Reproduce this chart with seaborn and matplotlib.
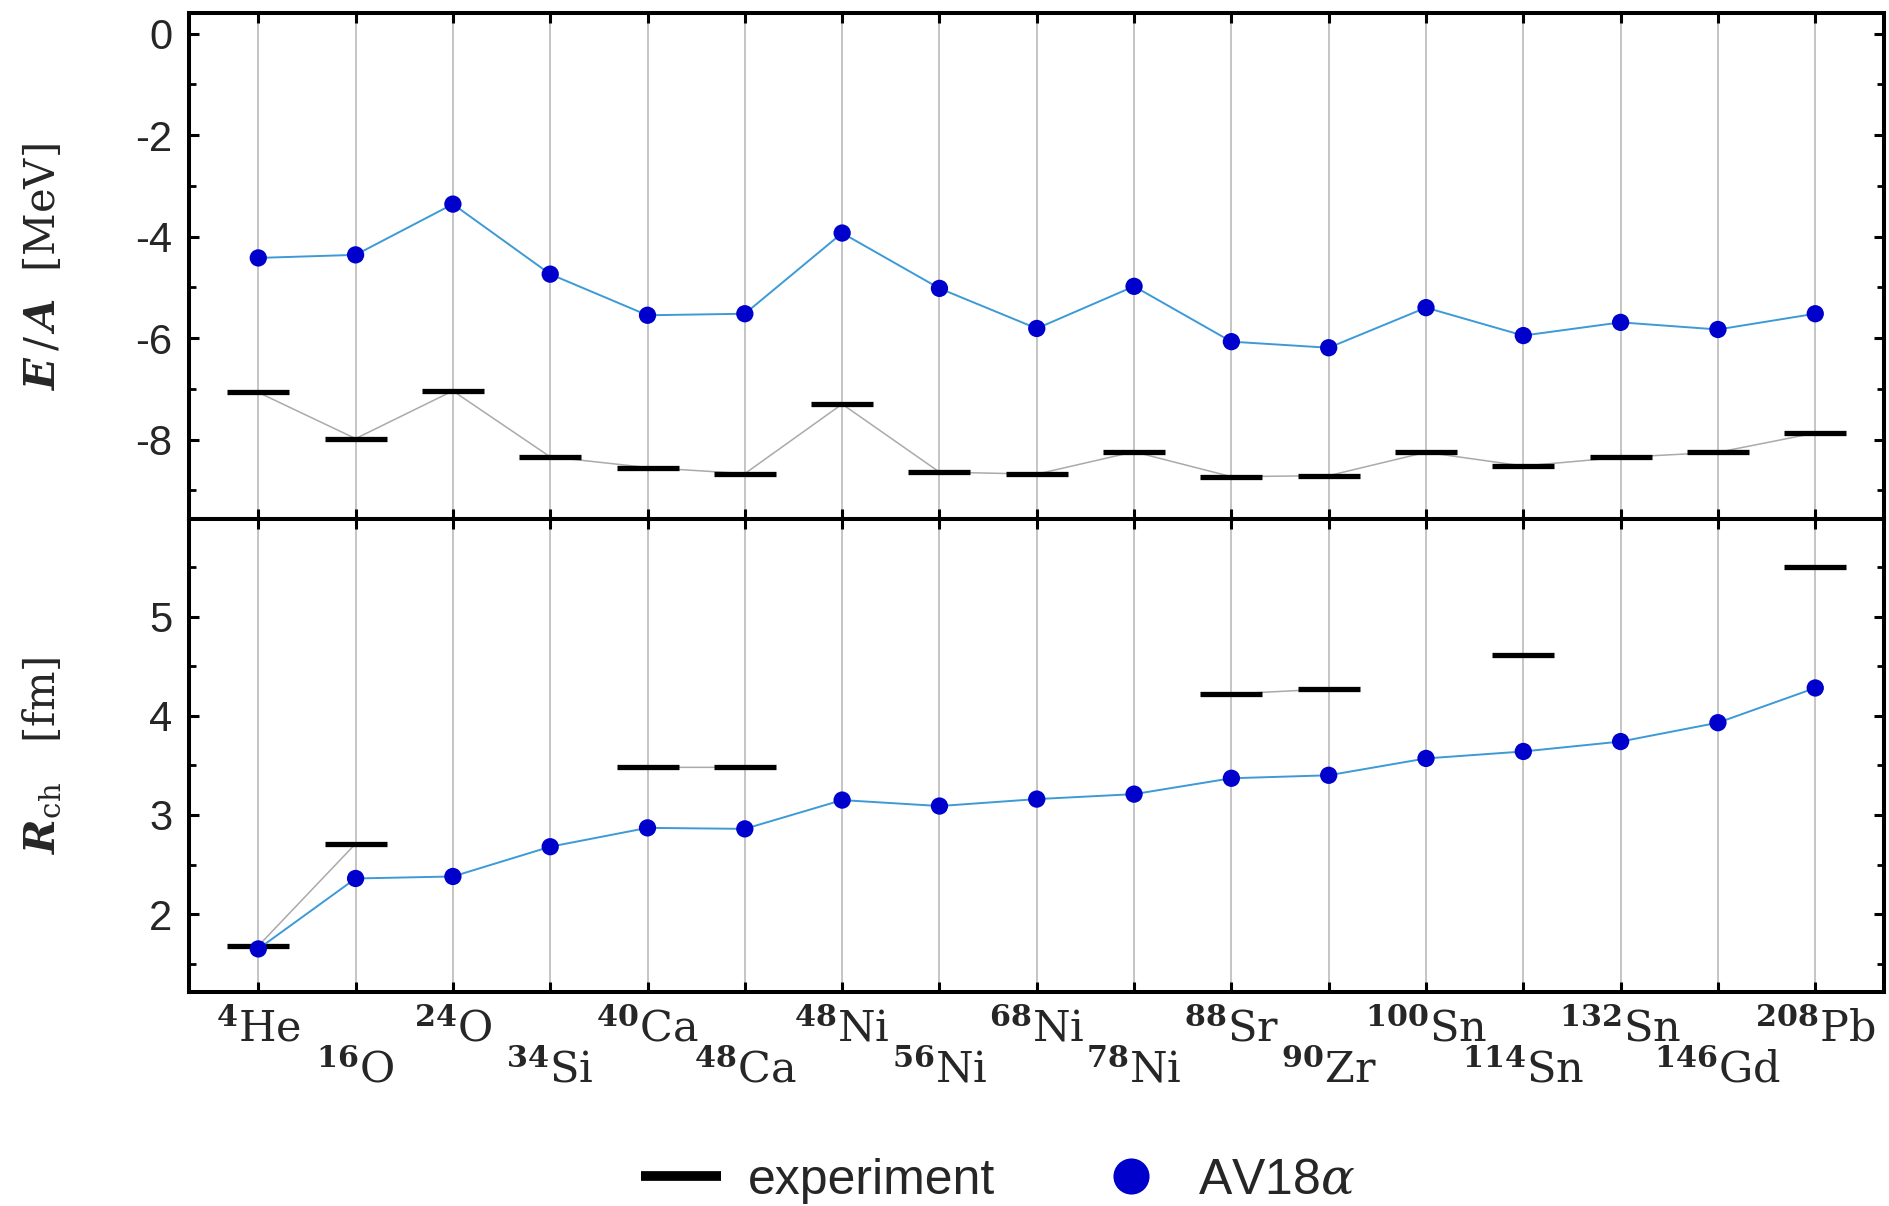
import numpy as np
import pandas as pd
import matplotlib
matplotlib.use("Agg")
import matplotlib.pyplot as plt
from matplotlib.lines import Line2D
from matplotlib.ticker import MultipleLocator
import seaborn as sns

# ---------------- data ----------------
nuclei = [r'$^{\mathbf{4}}\mathrm{He}$', r'$^{\mathbf{16}}\mathrm{O}$', r'$^{\mathbf{24}}\mathrm{O}$',
          r'$^{\mathbf{34}}\mathrm{Si}$', r'$^{\mathbf{40}}\mathrm{Ca}$', r'$^{\mathbf{48}}\mathrm{Ca}$',
          r'$^{\mathbf{48}}\mathrm{Ni}$', r'$^{\mathbf{56}}\mathrm{Ni}$', r'$^{\mathbf{68}}\mathrm{Ni}$',
          r'$^{\mathbf{78}}\mathrm{Ni}$', r'$^{\mathbf{88}}\mathrm{Sr}$', r'$^{\mathbf{90}}\mathrm{Zr}$',
          r'$^{\mathbf{100}}\mathrm{Sn}$', r'$^{\mathbf{114}}\mathrm{Sn}$', r'$^{\mathbf{132}}\mathrm{Sn}$',
          r'$^{\mathbf{146}}\mathrm{Gd}$', r'$^{\mathbf{208}}\mathrm{Pb}$']

ea_av18 = [-4.42, -4.36, -3.36, -4.74, -5.55, -5.52, -3.93, -5.02, -5.81,
           -4.98, -6.07, -6.19, -5.40, -5.95, -5.69, -5.83, -5.52]
ea_exp = [-7.07, -7.98, -7.04, -8.34, -8.55, -8.67, -7.30, -8.64, -8.68,
          -8.24, -8.73, -8.71, -8.25, -8.52, -8.35, -8.25, -7.87]

rch_av18 = [1.65, 2.36, 2.38, 2.68, 2.87, 2.86, 3.15, 3.09, 3.16,
            3.21, 3.37, 3.40, 3.57, 3.64, 3.74, 3.93, 4.28]
rch_exp = [1.68, 2.71, np.nan, np.nan, 3.48, 3.48, np.nan, np.nan, np.nan,
           np.nan, 4.22, 4.27, np.nan, 4.61, np.nan, np.nan, 5.50]

df = pd.DataFrame({"idx": np.arange(len(nuclei)),
                   "ea_av18": ea_av18, "ea_exp": ea_exp,
                   "rch_av18": rch_av18, "rch_exp": rch_exp})

# ---------------- style ----------------
sns.set_theme(style="white")
plt.rcParams["font.family"] = ["Liberation Sans", "DejaVu Sans"]
plt.rcParams["mathtext.fontset"] = "dejavuserif"

DOT = "#0000CC"
LINE = "#3C9AD6"
GRAY = "#AAAAAA"
GRID = "#C0C0C0"

fig = plt.figure(figsize=(18.9, 12.06), dpi=100)
left, right = 0.1001, 0.9970
ax1 = fig.add_axes([left, 0.5694, right - left, 0.9890 - 0.5694])
ax2 = fig.add_axes([left, 0.1778, right - left, 0.5694 - 0.1778])

def draw(ax, col_exp, col_av):
    ax.set_axisbelow(True)
    for xv in df["idx"]:
        ax.axvline(xv, color=GRID, lw=1.3, zorder=0)
    # experiment: thin gray connector + black bars
    ax.plot(df["idx"], df[col_exp], color=GRAY, lw=1.1, zorder=2)
    ax.plot(df["idx"], df[col_exp], linestyle="none", marker="_", markersize=44,
            markeredgewidth=3.8, color="black", zorder=3)
    # calculation
    sns.lineplot(data=df, x="idx", y=col_av, color=LINE, lw=1.4, ax=ax, zorder=4)
    sns.scatterplot(data=df, x="idx", y=col_av, color=DOT, s=155, edgecolor="none",
                    ax=ax, zorder=5)
    ax.set_xlim(-0.71, 16.71)
    ax.set_xticks(df["idx"])
    for sp in ax.spines.values():
        sp.set_linewidth(2.9)
        sp.set_color("black")
        sp.set_visible(True)
    ax.tick_params(axis="both", which="both", direction="in", top=True, right=True,
                   bottom=True, left=True, color="black")
    ax.tick_params(which="major", length=7.5, width=2.2, labelsize=30, pad=12)
    ax.tick_params(which="minor", length=5.0, width=2.0)
    ax.set_xlabel("")

draw(ax1, "ea_exp", "ea_av18")
draw(ax2, "rch_exp", "rch_av18")

ax1.set_ylim(-9.57, 0.40)
ax1.yaxis.set_minor_locator(MultipleLocator(1))
ax1.set_yticks([0, -2, -4, -6, -8])
ax1.set_yticklabels(["0", "-2", "-4", "-6", "-8"])
ax1.tick_params(axis="x", labelbottom=False)

ax2.set_ylim(1.22, 5.98)
ax2.set_yticks([2, 3, 4, 5])
ax2.yaxis.set_minor_locator(MultipleLocator(0.5))

ax2.set_xticklabels(nuclei, fontsize=31)
for i, t in enumerate(ax2.xaxis.get_major_ticks()):
    t.set_pad(12 if i % 2 == 0 else 42)

ax1.set_ylabel(r"$\mathbfit{E}\,/\,\mathbfit{A}\ \ [\mathrm{MeV}]$", fontsize=30)
ax2.set_ylabel(r"$\mathbfit{R}_{\mathrm{ch}}\ \ \ [\mathrm{fm}]$", fontsize=30)
ax1.yaxis.set_label_coords(-0.074, 0.5)
ax2.yaxis.set_label_coords(-0.074, 0.5)

handles = [Line2D([], [], color="black", lw=7, solid_capstyle="butt"),
           Line2D([], [], color=DOT, marker="o", linestyle="none", markersize=26,
                  markeredgewidth=0)]
fig.legend(handles, ["experiment", r"AV18$\alpha$"], loc="center",
           bbox_to_anchor=(0.528, 0.021), ncol=2, frameon=False, fontsize=36,
           handlelength=1.6, handletextpad=0.55, columnspacing=1.9)

fig.savefig("out.png", dpi=100)
